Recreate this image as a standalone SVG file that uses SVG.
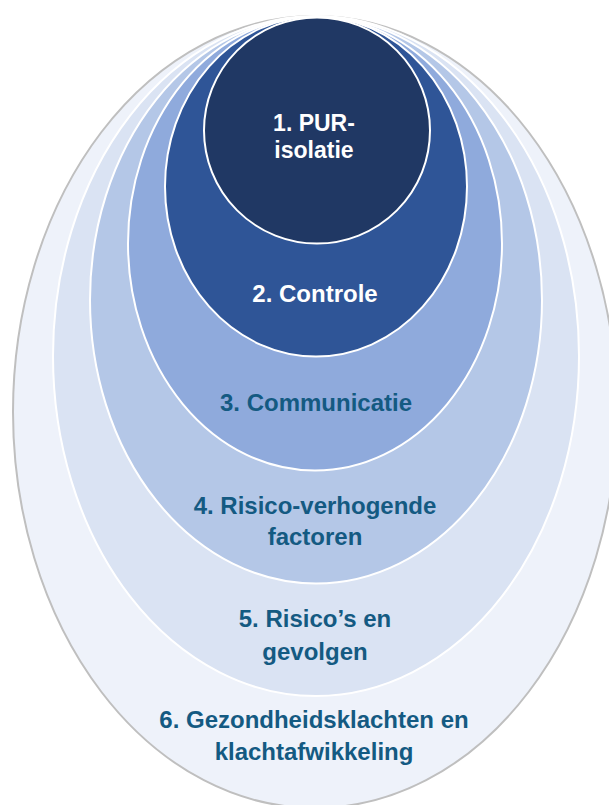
<svg xmlns="http://www.w3.org/2000/svg" width="609" height="805" viewBox="0 0 609 805">
<style>
.t{font-family:"Liberation Sans",Arial,sans-serif;font-weight:bold;font-size:24px;text-anchor:middle}
.s{font-size:23px}
.w{fill:#ffffff}
.b{fill:#145A82}
.ring{stroke:#ffffff;stroke-width:2}
</style>
<rect width="609" height="805" fill="#ffffff"/>
<g id="n6"><ellipse cx="315" cy="412" rx="302" ry="396" fill="#EEF2FA" stroke="#BFBFBF" stroke-width="2"/>
<text class="t b" x="314" y="728">6. Gezondheidsklachten en</text><text class="t b" x="314" y="760">klachtafwikkeling</text></g>
<g id="n5"><ellipse cx="316" cy="356" rx="263" ry="340" fill="#DAE3F3" class="ring"/>
<text class="t b" x="315" y="627">5. Risico’s en</text><text class="t b" x="315" y="660">gevolgen</text></g>
<g id="n4"><ellipse cx="316" cy="300" rx="226" ry="283.5" fill="#B4C7E7" class="ring"/>
<text class="t b" x="315" y="514">4. Risico-verhogende</text><text class="t b" x="315" y="545">factoren</text></g>
<g id="n3"><ellipse cx="315" cy="243.5" rx="187" ry="227" fill="#8FAADC" class="ring"/>
<text class="t b" x="316" y="411">3. Communicatie</text></g>
<g id="n2"><ellipse cx="316" cy="186.5" rx="151" ry="170" fill="#2F5597" class="ring"/>
<text class="t w" x="315" y="302">2. Controle</text></g>
<g id="n1"><ellipse cx="317" cy="130.5" rx="113" ry="113" fill="#203864" class="ring"/>
<text class="t s w" x="314" y="131">1. PUR-</text><text class="t s w" x="314" y="158">isolatie</text></g>
<g id="connectors"/>
</svg>
